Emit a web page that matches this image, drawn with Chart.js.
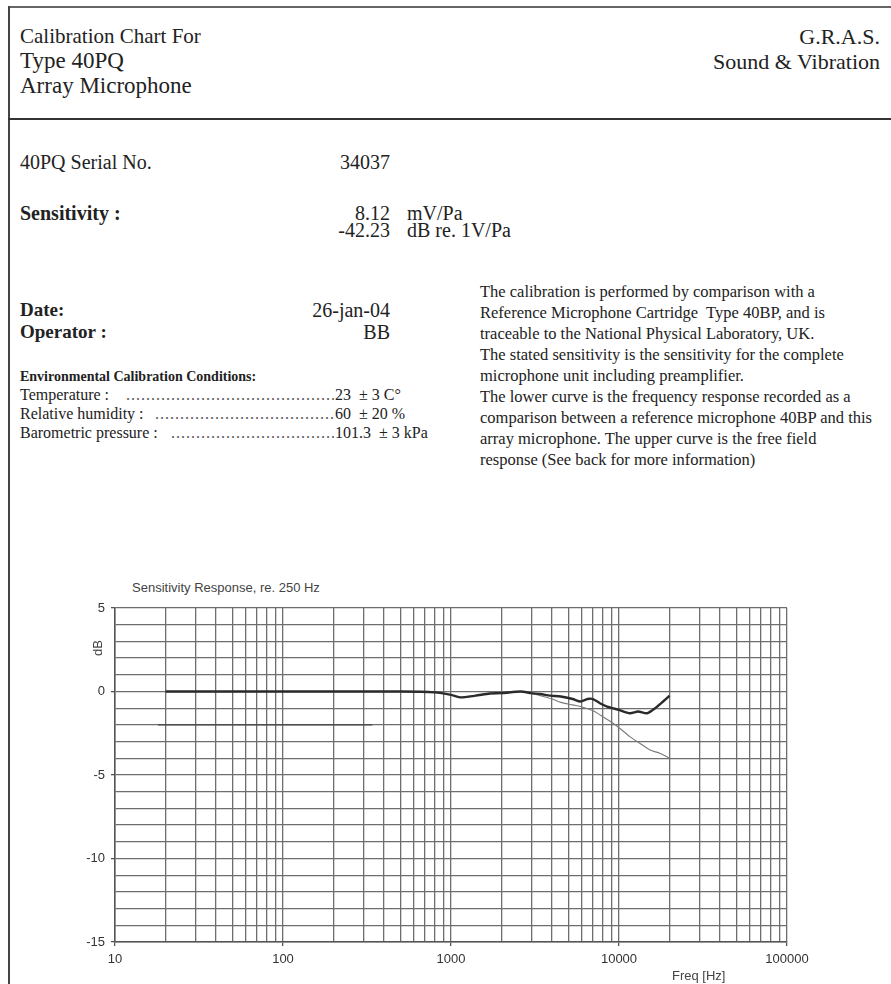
<!DOCTYPE html>
<html>
<head>
<meta charset="utf-8">
<script src="https://cdn.jsdelivr.net/npm/chart.js@4.4.1/dist/chart.umd.min.js"></script>
<style>
  body { margin: 0; background: #fff; }
  #page { position: relative; width: 891px; height: 984px; overflow: hidden; background: #fff;
          font-family: "Liberation Serif", "Times New Roman", serif; color: #222; }
  .t { position: absolute; white-space: pre; line-height: 1; }
  .r { text-align: right; }
  .b { font-weight: bold; }
  .rule { position: absolute; background: #444; }
  .sans { font-family: "Liberation Sans", Arial, sans-serif; color: #444; }
  .lead { position: absolute; overflow: hidden; white-space: nowrap; line-height: 1; font-size: 16px; letter-spacing: 1px; color: #555; }
  #para { position: absolute; left: 480px; top: 281px; font-size: 16.5px; line-height: 21px; white-space: pre; }
  #chart { position: absolute; left: 0; top: 560px; }
</style>
</head>
<body>
<div id="page">
  <!-- cadre et traits -->
  <div class="rule" style="left:8px;top:6px;width:883px;height:2px;background:#666"></div>
  <div class="rule" style="left:8px;top:6px;width:2px;height:978px;background:#444"></div>
  <div class="rule" style="left:8px;top:118px;width:883px;height:2px;background:#333"></div>

  <!-- en-tete -->
  <div class="t" style="left:20px;top:26px;font-size:21px">Calibration Chart For</div>
  <div class="t" style="left:20px;top:49px;font-size:23px">Type 40PQ</div>
  <div class="t" style="left:20px;top:74px;font-size:23px">Array Microphone</div>
  <div class="t r" style="right:11px;top:26px;font-size:22px">G.R.A.S.</div>
  <div class="t r" style="right:11px;top:51px;font-size:22px">Sound &amp; Vibration</div>

  <!-- infos -->
  <div class="t" style="left:20px;top:152px;font-size:20px">40PQ Serial No.</div>
  <div class="t r" style="right:501px;top:152px;font-size:20px">34037</div>

  <div class="t b" style="left:20px;top:203px;font-size:20px">Sensitivity :</div>
  <div class="t r" style="right:501px;top:203px;font-size:20px">8.12</div>
  <div class="t" style="left:407px;top:203px;font-size:20px">mV/Pa</div>
  <div class="t r" style="right:501px;top:220px;font-size:20px">-42.23</div>
  <div class="t" style="left:407px;top:220px;font-size:20px">dB re. 1V/Pa</div>

  <div class="t b" style="left:20px;top:300px;font-size:19px">Date:</div>
  <div class="t r" style="right:501px;top:300px;font-size:20px">26-jan-04</div>
  <div class="t b" style="left:20px;top:322px;font-size:19px">Operator :</div>
  <div class="t r" style="right:501px;top:322px;font-size:20px">BB</div>

  <div class="t b" style="left:20px;top:370px;font-size:14px">Environmental Calibration Conditions:</div>
  <div class="t" style="left:20px;top:387px;font-size:16px">Temperature :</div>
  <div class="lead" style="left:126px;top:387px;width:208px" id="lead1"></div>
  <div class="t" style="left:335px;top:387px;font-size:16px">23  ± 3 C°</div>
  <div class="t" style="left:20px;top:406px;font-size:16px">Relative humidity :</div>
  <div class="lead" style="left:155px;top:406px;width:179px" id="lead2"></div>
  <div class="t" style="left:335px;top:406px;font-size:16px">60  ± 20 %</div>
  <div class="t" style="left:20px;top:425px;font-size:16px">Barometric pressure :</div>
  <div class="lead" style="left:171px;top:425px;width:163px" id="lead3"></div>
  <div class="t" style="left:335px;top:425px;font-size:16px">101.3  ± 3 kPa</div>

  <div id="para">The calibration is performed by comparison with a
Reference Microphone Cartridge  Type 40BP, and is
traceable to the National Physical Laboratory, UK.
The stated sensitivity is the sensitivity for the complete
microphone unit including preamplifier.
The lower curve is the frequency response recorded as a
comparison between a reference microphone 40BP and this
array microphone. The upper curve is the free field
response (See back for more information)</div>

  <!-- graphique -->
  <div class="t sans" style="left:132px;top:581px;font-size:13px">Sensitivity Response, re. 250 Hz</div>
  <canvas id="chart" width="891" height="424"></canvas>
  <div class="t sans" style="left:91px;top:656px;font-size:13px;transform:rotate(-90deg);transform-origin:0 0">dB</div>
  <div class="t sans" style="left:672px;top:969px;font-size:13px">Freq [Hz]</div>
</div>

<script>
// pointilles des conditions
["lead1", "lead2", "lead3"].forEach(function (id) {
    document.getElementById(id).textContent = ".".repeat(80);
});

// Donnees
var freqUpper = [20, 100, 500, 800, 1000, 1130, 1400, 1700, 2000, 2600, 3000, 3400, 3900, 4500, 5300, 5900, 6500, 7000, 7700, 8500, 10000, 11600, 13000, 14700, 16400, 18300, 20000];
var dbUpper = [0, 0, 0, -0.05, -0.2, -0.35, -0.25, -0.12, -0.1, 0, -0.1, -0.15, -0.25, -0.3, -0.45, -0.6, -0.45, -0.45, -0.7, -0.9, -1.1, -1.3, -1.2, -1.3, -1.0, -0.6, -0.25];

var freqLower = [20, 100, 500, 800, 1000, 1130, 1400, 1700, 2000, 2600, 3000, 3400, 4000, 4500, 5300, 5900, 7000, 7700, 8900, 10100, 11600, 13300, 15300, 17500, 20000];
var dbLower = [0, 0, 0, -0.05, -0.2, -0.35, -0.25, -0.12, -0.1, 0, -0.1, -0.25, -0.45, -0.65, -0.8, -0.9, -1.15, -1.4, -1.8, -2.2, -2.7, -3.1, -3.5, -3.7, -4.0];

// trait sombre a -2 dB (basses frequences)
var freqMark = [18, 340];
var dbMark = [-2, -2];

var decades = [10, 100, 1000, 10000, 100000];
var multiples = [1, 2, 3, 4, 5, 6, 7, 8, 9];
var yLabels = [5, 0, -5, -10, -15];

function toPoints(xs, ys) {
    var pts = [];
    for (var i = 0; i < xs.length; i++) {
        pts.push({ x: xs[i], y: ys[i] });
    }
    return pts;
}

var xGrid = [];
for (var d = 0; d < decades.length - 1; d++) {
    for (var m = 0; m < multiples.length; m++) {
        xGrid.push(decades[d] * multiples[m]);
    }
}
xGrid.push(decades[decades.length - 1]);

var tickFont = { family: "'Liberation Sans', Arial, sans-serif", size: 13 };

new Chart(document.getElementById("chart"), {
    type: 'line',
    data: {
        datasets: [
            {
                label: "Upper curve (free field)",
                data: toPoints(freqUpper, dbUpper),
                borderColor: "#2b2b2b",
                borderWidth: 2.4,
                pointRadius: 0,
                tension: 0.25,
                fill: false
            },
            {
                label: "Lower curve (vs. 40BP)",
                data: toPoints(freqLower, dbLower),
                borderColor: "#7a7a7a",
                borderWidth: 1.1,
                pointRadius: 0,
                tension: 0.25,
                fill: false
            },
            {
                label: "-2 dB",
                data: toPoints(freqMark, dbMark),
                borderColor: "#444",
                borderWidth: 1.4,
                pointRadius: 0,
                fill: false
            }
        ]
    },
    options: {
        responsive: false,
        animation: false,
        devicePixelRatio: 1,
        layout: { padding: { top: 48, right: 104, bottom: 0, left: 0 } },
        plugins: {
            legend: { display: false },
            tooltip: { enabled: false },
            title: { display: false }
        },
        scales: {
            x: {
                type: 'logarithmic',
                min: 10,
                max: 100000,
                afterBuildTicks: function (scale) {
                    scale.ticks = xGrid.map(function (v) { return { value: v }; });
                },
                afterFit: function (scale) { scale.height = 42; },
                border: { color: "#555", width: 1.5 },
                grid: {
                    color: "#6e6e6e",
                    lineWidth: 1.3,
                    tickLength: 4,
                    tickColor: function (ctx) {
                        return decades.indexOf(ctx.tick.value) >= 0 ? "#555" : "rgba(0,0,0,0)";
                    }
                },
                ticks: {
                    autoSkip: false,
                    maxRotation: 0,
                    padding: 6,
                    color: "#333",
                    font: tickFont,
                    callback: function (v) {
                        return decades.indexOf(v) >= 0 ? String(v) : "";
                    }
                }
            },
            y: {
                min: -15,
                max: 5,
                afterFit: function (scale) { scale.width = 115; },
                border: { color: "#555", width: 1.5 },
                grid: {
                    color: "#6e6e6e",
                    lineWidth: 1.3,
                    tickLength: 4,
                    tickColor: function (ctx) {
                        return yLabels.indexOf(ctx.tick.value) >= 0 ? "#555" : "rgba(0,0,0,0)";
                    }
                },
                ticks: {
                    stepSize: 1,
                    autoSkip: false,
                    padding: 6,
                    color: "#333",
                    font: tickFont,
                    callback: function (v) {
                        return yLabels.indexOf(v) >= 0 ? String(v) : "";
                    }
                }
            }
        }
    }
});
</script>
</body>
</html>
